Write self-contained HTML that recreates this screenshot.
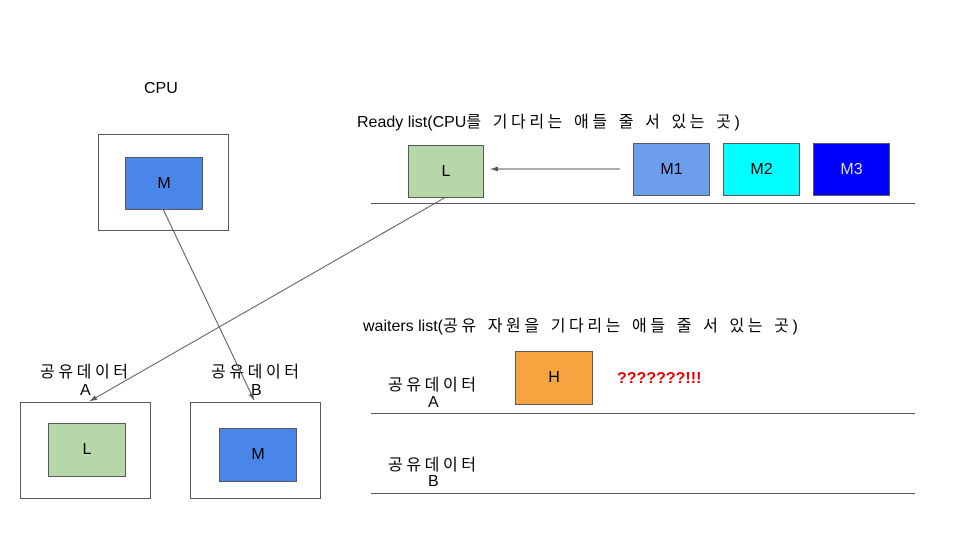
<!DOCTYPE html>
<html><head><meta charset="utf-8"><style>
body{margin:0;width:960px;height:540px;background:#fff;position:relative;overflow:hidden;font-family:"Liberation Sans","Noto Sans CJK KR",sans-serif;color:#000}
.b{position:absolute;box-sizing:border-box;border:1px solid #595959;display:flex;align-items:center;justify-content:center;font-size:16px}
.t{position:absolute;font-size:16px;white-space:nowrap}
.k{letter-spacing:3.6px}
</style></head><body>
<div class="t" style="left:144px;top:80px">CPU</div>
<div class="b" style="left:98px;top:134px;width:131px;height:97px"></div>
<div class="b" style="left:125px;top:157px;width:78px;height:53px;background:#4a86e8">M</div>

<div class="t" style="left:357px;top:108px">Ready list(CPU<span class="k">를 기다리는 애들 줄 서 있는 곳</span>)</div>
<div class="b" style="left:408px;top:145px;width:76px;height:53px;background:#b6d7a8">L</div>
<div class="b" style="left:633px;top:143px;width:77px;height:53px;background:#6d9eeb">M1</div>
<div class="b" style="left:723px;top:143px;width:77px;height:53px;background:#00ffff">M2</div>
<div class="b" style="left:813px;top:143px;width:77px;height:53px;background:#0000ff;color:#ddd">M3</div>

<div class="t" style="left:363px;top:312px">waiters list(<span class="k">공유 자원을 기다리는 애들 줄 서 있는 곳</span>)</div>
<div class="t k" style="left:388px;top:371px">공유데이터</div>
<div class="t" style="left:428px;top:394px">A</div>
<div class="b" style="left:515px;top:351px;width:78px;height:54px;background:#f6a540">H</div>
<div class="t" style="left:617px;top:370px;color:#e00;font-weight:bold">???????!!!</div>
<div class="t k" style="left:388px;top:451px">공유데이터</div>
<div class="t" style="left:428px;top:473px">B</div>

<div class="t k" style="left:40px;top:358px">공유데이터</div>
<div class="t" style="left:80px;top:382px">A</div>
<div class="t k" style="left:211px;top:358px">공유데이터</div>
<div class="t" style="left:251px;top:382px">B</div>
<div class="b" style="left:20px;top:402px;width:131px;height:97px"></div>
<div class="b" style="left:48px;top:423px;width:78px;height:54px;background:#b6d7a8">L</div>
<div class="b" style="left:190px;top:402px;width:131px;height:97px"></div>
<div class="b" style="left:219px;top:428px;width:78px;height:54px;background:#4a86e8">M</div>

<svg width="960" height="540" style="position:absolute;left:0;top:0" xmlns="http://www.w3.org/2000/svg">
<defs><marker id="a" markerWidth="8" markerHeight="8" refX="7" refY="4" orient="auto" markerUnits="userSpaceOnUse"><path d="M0,1.5 L7,4 L0,6.5z" fill="#595959"/></marker></defs>
<g stroke="#595959" stroke-width="1" fill="none">
<line x1="371" y1="203.5" x2="915" y2="203.5"/>
<line x1="371" y1="413.5" x2="915" y2="413.5"/>
<line x1="371" y1="493.5" x2="915" y2="493.5"/>
<line x1="620" y1="169" x2="491" y2="169" marker-end="url(#a)"/>
<line x1="446" y1="197" x2="90" y2="401" marker-end="url(#a)"/>
<line x1="163" y1="209" x2="254" y2="400" marker-end="url(#a)"/>
</g></svg>
</body></html>
